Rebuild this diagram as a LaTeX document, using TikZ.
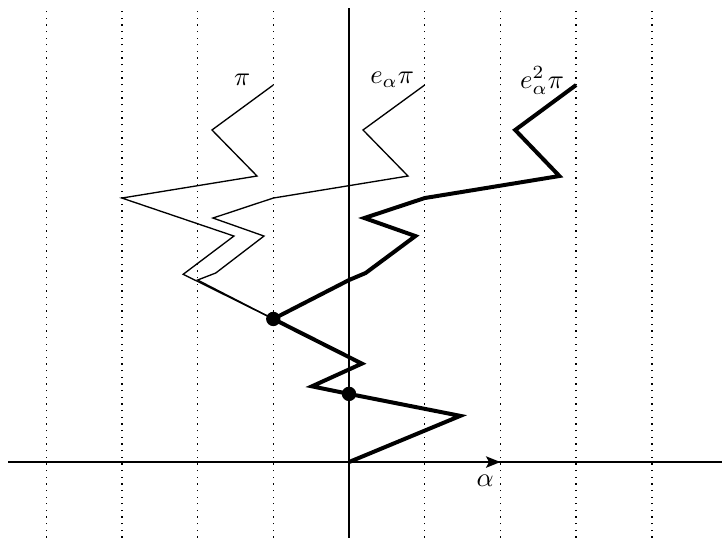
\documentclass[tikz,border=0pt]{standalone}
\usetikzlibrary{arrows.meta}
\begin{document}
\begin{tikzpicture}[
  x=1cm, y=1cm, line join=miter,
  grid/.style={dotted, line width=0.5pt},
  axis/.style={line width=0.5pt},
  root/.style={line width=0.8pt, -{Stealth[length=1.9mm, width=1.5mm, inset=0.4mm]}},
  lpath/.style={line width=0.5pt},
  hpath/.style={line width=1.5pt},
  pt/.style={circle, fill, inner sep=0pt, minimum size=1.9mm},
  lbl/.style={inner sep=1pt},
]
\useasboundingbox (-4.61,-1.004) rectangle (4.94,6.103);
% walls of the alcove grid
\foreach \k in {-4,-3,-2,-1,1,2,3,4} \draw[grid] (\k,-1) -- (\k,6);
% axes and the simple root
\coordinate (o) at (0,0);
\draw[axis] (-4.5,0) -- (4.93,0);
\draw[axis] (0,-1) -- (0,6);
\draw[root] (-4.5,0) -- (2,0);
\node[lbl] (alpha) at (1.8,-0.25) {$\alpha$};
% common start of the three paths
\coordinate (p1) at (1.47,0.61);
\coordinate (p2) at (0,0.9);
\coordinate (p3) at (-0.49,1.0);
\coordinate (p4) at (0.17,1.3);
\coordinate (p5) at (-1,1.89);
% pi
\draw[lpath] (p5) -- (-2.19,2.48) -- (-1.52,2.985) -- (-3.0,3.487) -- (-1.215,3.778)
  -- (-1.81,4.386) -- (-1.0,4.98);
% e_alpha pi
\draw[lpath] (p5) -- (-2.0,2.404) -- (-1.76,2.497) -- (-1.123,2.985) -- (-1.797,3.223)
  -- (-1.0,3.487) -- (0.779,3.778) -- (0.185,4.386) -- (1.0,4.98);
% e_alpha^2 pi
\draw[hpath] (o) -- (p1) -- (p2) -- (p3) -- (p4) -- (p5) -- (0,2.404) -- (0.22,2.497)
  -- (0.877,2.985) -- (0.203,3.223) -- (1.0,3.487) -- (2.779,3.778) -- (2.195,4.386)
  -- (3.0,4.98);
\node[pt] (d1) at (p2) {};
\node[pt] (d2) at (p5) {};
% labels
\node[lbl] (lpi) at (-1.41,5.05) {$\pi$};
\node[lbl] (lea) at (0.57,5.05) {$e_\alpha\pi$};
\node[lbl] (leb) at (2.55,5.04) {$e_\alpha^2\pi$};
\end{tikzpicture}
\end{document}
